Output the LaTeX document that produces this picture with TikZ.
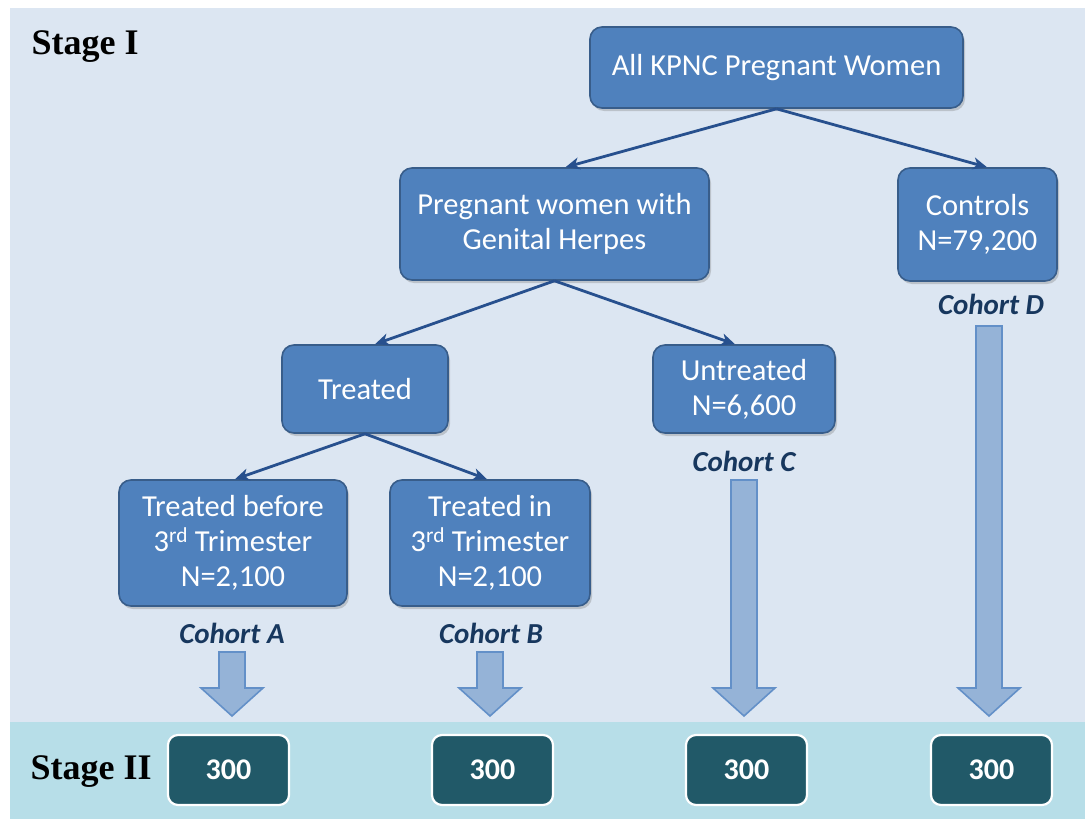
\documentclass[tikz,border=0pt]{standalone}
\usepackage{fontspec}
\setmainfont{Carlito}
\newfontfamily\stagefont{Liberation Serif}
\usetikzlibrary{shadows,arrows.meta}
\definecolor{bgc}{HTML}{DCE6F2}
\definecolor{bandc}{HTML}{B7DEE8}
\definecolor{boxfill}{HTML}{4F81BD}
\definecolor{boxborder}{HTML}{385D8A}
\definecolor{connc}{HTML}{27508E}
\definecolor{barfill}{HTML}{95B3D7}
\definecolor{barborder}{HTML}{6390C8}
\definecolor{stwofill}{HTML}{215968}
\definecolor{cohortc}{HTML}{17375E}
\newcommand\blockarr[2]{%
  \draw[barrow] ({#1-13},#2) -- ({#1+13},#2) -- ({#1+13},688) -- ({#1+31},688)
    -- (#1,716) -- ({#1-31},688) -- ({#1-13},688) -- cycle;}
\begin{document}
\begin{tikzpicture}[x=1pt,y=-1pt,
  box/.style={draw=boxborder, line width=1.6pt, fill=boxfill, rounded corners=12pt,
    text=white, align=center, font=\fontsize{30.5}{35}\selectfont, inner sep=0pt,
    drop shadow={opacity=0.35, shadow xshift=2pt, shadow yshift=-3pt}},
  conn/.style={draw=connc, line width=2.8pt, -{Stealth[length=14pt,width=12pt,inset=4pt]}},
  cohort/.style={text=cohortc, font=\fontsize{29}{32}\selectfont\bfseries\itshape},
  barrow/.style={draw=barborder, line width=1.6pt, fill=barfill, line join=miter},
  stwo/.style={draw=white, line width=2.2pt, fill=stwofill, rounded corners=10pt,
    text=white, font=\fontsize{30}{34}\selectfont\bfseries, minimum width=121pt,
    minimum height=70pt, inner sep=0pt},
  stage/.style={anchor=west, text=black, font=\fontsize{36}{40}\selectfont\stagefont\bfseries}]
\useasboundingbox (0,0) rectangle (1085,819);
\fill[white] (0,0) rectangle (1085,819);
\fill[bgc] (10,8) rectangle (1085,722);
\fill[bandc] (10,722) rectangle (1085,819);

\node[stage] (s1) at (28,47) {Stage I};
\node[stage] (s2) at (27,772) {Stage II};

\node[box, minimum width=373pt, minimum height=81pt] (all) at (776.5,67.5) {All KPNC Pregnant Women};
\node[box, minimum width=309pt, minimum height=112pt] (preg) at (554.5,224) {Pregnant women with\\Genital Herpes};
\node[box, minimum width=159pt, minimum height=113pt] (ctrl) at (977.5,224.5) {Controls\\N=79,200};
\node[box, minimum width=166pt, minimum height=88pt] (trt) at (365,389) {Treated};
\node[box, minimum width=182pt, minimum height=88pt] (untr) at (744,389) {Untreated\\N=6,600};
\node[box, minimum width=228pt, minimum height=126pt] (tb) at (233,543) {Treated before\\3\textsuperscript{rd} Trimester\\N=2,100};
\node[box, minimum width=200pt, minimum height=126pt] (ti) at (490,543) {Treated in\\3\textsuperscript{rd} Trimester\\N=2,100};

\draw[conn] (all.south) -- ([xshift=11pt]preg.north);
\draw[conn] (all.south) -- ([xshift=9.5pt]ctrl.north);
\draw[conn] (preg.south) -- ([xshift=10pt]trt.north);
\draw[conn] (preg.south) -- ([xshift=-9pt]untr.north);
\draw[conn] (trt.south) -- ([xshift=2pt]tb.north);
\draw[conn] (trt.south) -- ([xshift=-3pt]ti.north);

\node[cohort] (ca) at (232,633) {Cohort A};
\node[cohort] (cb) at (491,633) {Cohort B};
\node[cohort] (cc) at (744,461) {Cohort C};
\node[cohort] (cd) at (991,304) {Cohort D};

\blockarr{232}{652}
\blockarr{490}{652}
\blockarr{744}{480}
\blockarr{989}{326}

\node[stwo] (sa) at (228.5,770) {300};
\node[stwo] (sb) at (492.5,770) {300};
\node[stwo] (sc) at (746.5,770) {300};
\node[stwo] (sd) at (991.5,770) {300};
\end{tikzpicture}
\end{document}
